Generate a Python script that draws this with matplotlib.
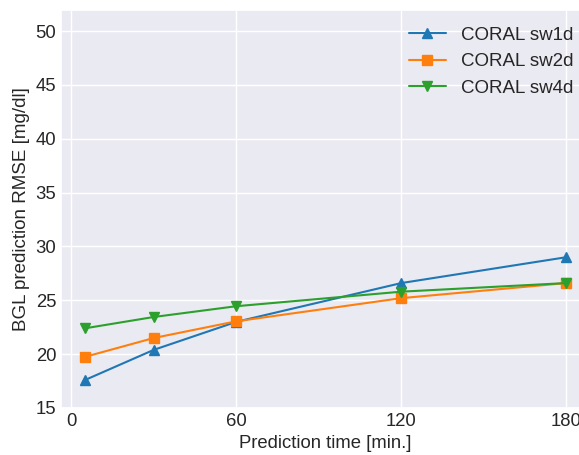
import matplotlib
matplotlib.use("Agg")
import matplotlib.pyplot as plt
import seaborn as sns

# prediction horizons (minutes) and RMSE per model
horizons = [5, 30, 60, 120, 180]
rmse_sw1d = [17.6, 20.4, 23.0, 26.6, 29.0]
rmse_sw2d = [19.75, 21.5, 23.05, 25.2, 26.6]
rmse_sw4d = [22.4, 23.45, 24.45, 25.8, 26.6]
xticks = [0, 60, 120, 180]

sns.set_theme(style="darkgrid", palette="tab10")
plt.rcParams['font.family'] = ['Liberation Sans', 'DejaVu Sans']

fig = plt.figure(figsize=(5.79, 4.55), dpi=100)
# the original figure is a bit wider than the crop, so the axes run past the right edge
ax = fig.add_axes([61 / 579, 47 / 455, 529.4 / 579, 398 / 455])

ax.plot(horizons, rmse_sw1d, marker='^', markersize=7, linewidth=1.5, label='CORAL sw1d')
ax.plot(horizons, rmse_sw2d, marker='s', markersize=7, linewidth=1.5, label='CORAL sw2d')
ax.plot(horizons, rmse_sw4d, marker='v', markersize=7, linewidth=1.5, label='CORAL sw4d')

ax.set_xticks(xticks)
ax.set_xlim(-3.75, 188.75)
ax.set_ylim(15, 51.95)
ax.tick_params(labelsize=13.3, pad=3.5, length=0)
ax.set_xlabel("Prediction time [min.]", fontsize=13.3, labelpad=4)
ax.set_ylabel("BGL prediction RMSE [mg/dl]", fontsize=13.5, labelpad=4)
ax.legend(loc='upper right', fontsize=13.5, frameon=False)

fig.savefig("out.png", dpi=100)
